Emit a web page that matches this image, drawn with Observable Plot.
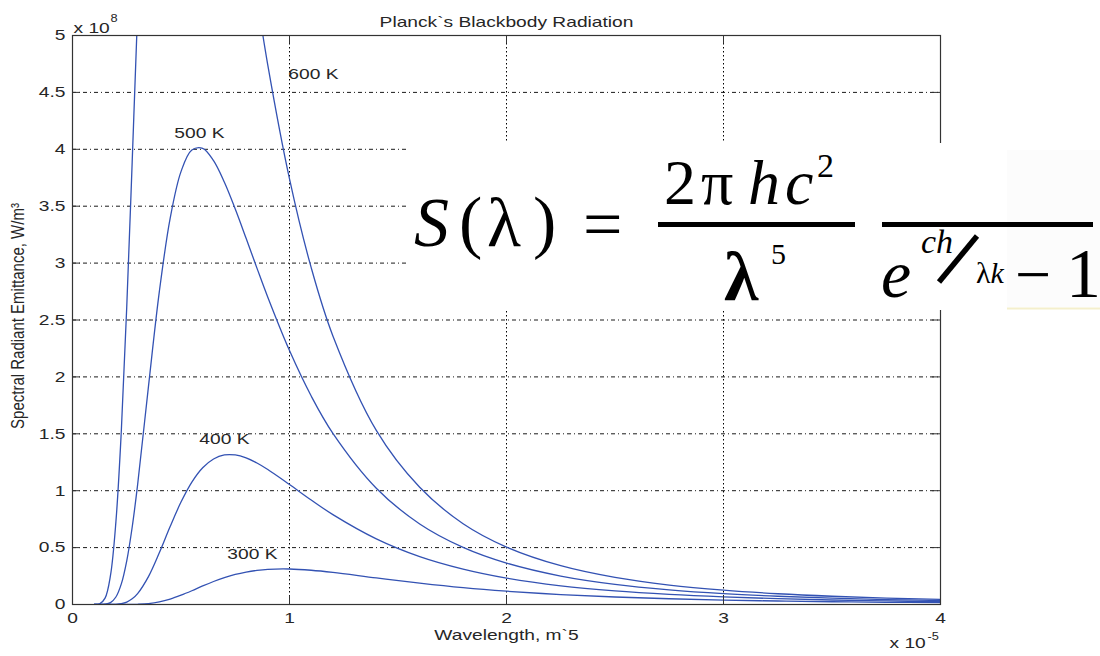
<!DOCTYPE html>
<html>
<head>
<meta charset="utf-8">
<script src="https://cdn.jsdelivr.net/npm/d3@7"></script>
<script src="https://cdn.jsdelivr.net/npm/@observablehq/plot@0.6"></script>
<style>
  html, body { margin: 0; padding: 0; background: #fff; }
  #wrap { position: relative; width: 1100px; height: 656px; overflow: hidden; }
  #wrap > svg { position: absolute; left: 0; top: 0; }
  .formula text { font-family: "Liberation Serif", "DejaVu Serif", "Times New Roman", serif; }
</style>
</head>
<body>
<div id="wrap"></div>
<script>
// Wavelength in units of 1e-5 m; emittance in units of 1e8 W/m^3
const wavelength = [0.1,0.125,0.15,0.175,0.2,0.225,0.25,0.275,0.3,0.35,0.4,0.45,0.5,0.55,0.6,0.65,0.7,0.75,0.8,0.85,0.9,1.0,1.1,1.2,1.4,1.6,1.8,2.0,2.25,2.5,2.75,3.0,3.25,3.5,3.75,4.0];
const emittance600 = [0.0001,0.006,0.056,0.255,0.726,1.526,2.616,3.886,5.204,7.55,9.13,9.88,9.98,9.62,9.01,8.27,7.49,6.72,6.00,5.34,4.74,3.74,2.96,2.36,1.53,1.03,0.71,0.505,0.341,0.238,0.171,0.126,0.0946,0.0724,0.0563,0.0445];
const emittance500 = [0,0.0001,0.0023,0.0165,0.066,0.181,0.384,0.679,1.051,1.915,2.747,3.393,3.804,3.994,4.009,3.900,3.710,3.475,3.218,2.956,2.700,2.231,1.832,1.504,1.022,0.708,0.502,0.364,0.250,0.177,0.129,0.0957,0.0725,0.0559,0.0437,0.0347];
const emittance400 = [0,0,0,0.0003,0.0018,0.0074,0.0216,0.0496,0.0956,0.245,0.454,0.685,0.900,1.076,1.202,1.279,1.314,1.314,1.288,1.243,1.186,1.054,0.918,0.790,0.577,0.421,0.311,0.232,0.164,0.119,0.0882,0.0665,0.0510,0.0397,0.0314,0.0251];
const emittance300 = [0,0,0,0,0,0,0.0002,0.0006,0.0018,0.008,0.0227,0.0477,0.0818,0.121,0.163,0.202,0.236,0.264,0.285,0.300,0.309,0.312,0.301,0.282,0.234,0.188,0.148,0.117,0.0874,0.0660,0.0504,0.0390,0.0306,0.0243,0.0195,0.0158];

const temperatureLabels = ["600 K", "500 K", "400 K", "300 K"];
const labelWavelength = [1.11, 0.585, 0.70, 0.829];
const labelEmittance = [4.66, 4.14, 1.45, 0.44];

const xTicks = [0, 1, 2, 3, 4];
const yTicks = [0, 0.5, 1, 1.5, 2, 2.5, 3, 3.5, 4, 4.5, 5];

const titleText = "Planck`s Blackbody Radiation";
const xLabelText = "Wavelength, m`5";
const yLabelText = "Spectral Radiant Emittance, W/m³";

const seriesList = [emittance600, emittance500, emittance400, emittance300];
const rows = [];
seriesList.forEach((vals, k) => {
  wavelength.forEach((w, i) => rows.push({T: temperatureLabels[k], w, v: vals[i]}));
});

const ink = "#262626";
const svg = Plot.plot({
  width: 1100,
  height: 656,
  marginLeft: 72,
  marginRight: 160,
  marginTop: 35,
  marginBottom: 52,
  x: {domain: [0, 4]},
  y: {domain: [0, 5]},
  style: {fontFamily: "'Liberation Sans', Arial, sans-serif", fontSize: "15px", color: ink, background: "#fff", overflow: "visible"},
  marks: [
    Plot.ruleY(yTicks.slice(1, -1), {stroke: "#000", strokeDasharray: "4,3,1,3", strokeWidth: 0.9}),
    Plot.ruleX(xTicks.slice(1, -1), {stroke: "#000", strokeDasharray: "1.5,2.5", strokeWidth: 1}),
    Plot.line(rows, {x: "w", y: "v", z: "T", stroke: "#3352b3", strokeWidth: 1.3, curve: "catmull-rom", clip: true}),
    Plot.ruleX(xTicks, {y1: 0, y2: 0.075, stroke: "#333"}),
    Plot.ruleX(xTicks, {y1: 5, y2: 4.925, stroke: "#333"}),
    Plot.ruleY(yTicks, {x1: 0, x2: 0.037, stroke: "#333"}),
    Plot.ruleY(yTicks, {x1: 4, x2: 3.963, stroke: "#333"}),
    Plot.frame({stroke: "#333", strokeWidth: 1.2}),
    Plot.axisX(xTicks, {tickSize: 0, tickPadding: 8, label: null, fontSize: 15, fill: ink, tickFormat: d => String(d)}),
    Plot.axisY(yTicks, {tickSize: 0, tickPadding: 7, label: null, fontSize: 15, fill: ink, tickFormat: d => String(d)}),
    Plot.text(temperatureLabels, {x: (d, i) => labelWavelength[i], y: (d, i) => labelEmittance[i], text: d => d, fill: ink, fontSize: 15}),
    Plot.text([titleText], {frameAnchor: "top", dy: -19, text: d => d, fill: ink, fontSize: 15}),
    Plot.text([xLabelText], {frameAnchor: "bottom", dy: 35, text: d => d, fill: ink, fontSize: 15}),
    Plot.text([yLabelText], {frameAnchor: "left", textAnchor: "middle", rotate: -90, dx: -55, dy: -4, text: d => d, fill: ink, fontSize: 15}),
    Plot.text(["x 10"], {frameAnchor: "top-left", textAnchor: "start", dx: 1, dy: -13, text: d => d, fill: ink, fontSize: 15}),
    Plot.text(["8"], {frameAnchor: "top-left", textAnchor: "start", dx: 38, dy: -21, text: d => d, fill: ink, fontSize: 10}),
    Plot.text(["x 10"], {frameAnchor: "bottom-right", textAnchor: "start", dx: -51, dy: 43, text: d => d, fill: ink, fontSize: 15}),
    Plot.text(["-5"], {frameAnchor: "bottom-right", textAnchor: "start", dx: -13, dy: 35, text: d => d, fill: ink, fontSize: 10})
  ]
});

// MATLAB figure was stretched horizontally: widen the glyphs around their anchors
svg.querySelectorAll("text").forEach(t => {
  const tr = t.getAttribute("transform");
  if (!tr) return;
  if (tr.includes("rotate")) t.setAttribute("transform", tr + " scale(1,1.28)");
  else t.setAttribute("transform", tr + " scale(1.28,1)");
});

const wrap = document.getElementById("wrap");
wrap.appendChild(svg);

// Formula overlay
const NS = "http://www.w3.org/2000/svg";
const ov = document.createElementNS(NS, "svg");
ov.setAttribute("width", 1100);
ov.setAttribute("height", 656);
ov.setAttribute("viewBox", "0 0 1100 656");
ov.setAttribute("class", "formula");
ov.style.pointerEvents = "none";
ov.innerHTML = `
  <rect x="407" y="143" width="693" height="167" fill="#fff"/>
  <rect x="1007" y="150" width="93" height="157" fill="#fcfcfc"/>
  <line x1="1007" y1="308.5" x2="1100" y2="308.5" stroke="#f4efcc" stroke-width="2"/>
  <g fill="#000">
    <text x="414" y="246" font-size="70" font-style="italic">S</text>
    <text x="459" y="245" font-size="70">(</text>
    <text x="487" y="246" font-size="70">λ</text>
    <text x="533" y="245" font-size="70">)</text>
    <text x="583" y="248" font-size="70">=</text>
    <rect x="658" y="222" width="197" height="5"/>
    <text x="664" y="204" font-size="64">2</text>
    <text x="701" y="204" font-size="64">π</text>
    <text x="748" y="204" font-size="64" font-style="italic">h</text>
    <text x="785" y="204" font-size="64" font-style="italic">c</text>
    <text x="817" y="177" font-size="34">2</text>
    <text x="724" y="300" font-size="70" font-weight="bold">λ</text>
    <text x="771" y="264" font-size="30">5</text>
    <rect x="882" y="222" width="211" height="5"/>
    <text x="881" y="297" font-size="68" font-style="italic">e</text>
    <text x="921" y="253" font-size="34" font-style="italic">ch</text>
    <line x1="939" y1="282" x2="977" y2="236" stroke="#000" stroke-width="5.5"/>
    <text x="976" y="283" font-size="30">λ<tspan font-style="italic">k</tspan></text>
    <text x="1015" y="296" font-size="64">−</text>
    <text x="1066" y="297" font-size="70">1</text>
  </g>`;
wrap.appendChild(ov);
</script>
</body>
</html>
